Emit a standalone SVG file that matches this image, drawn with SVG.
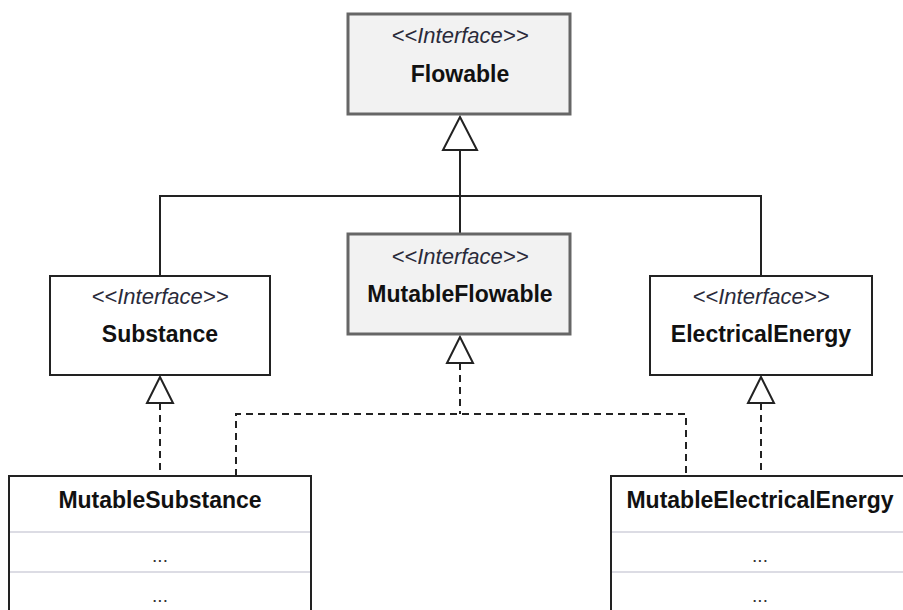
<svg xmlns="http://www.w3.org/2000/svg" width="903" height="610" viewBox="0 0 903 610">
<defs>
<style>
.iface{fill:#f2f2f2;stroke:#666;stroke-width:3}
.plain{fill:#fff;stroke:#222;stroke-width:2}
.sep{stroke:#dcdce4;stroke-width:2}
.st{font-family:"Liberation Sans",Arial,sans-serif;font-style:italic;font-size:22px;fill:#2a2a3a;text-anchor:middle}
.nm{font-family:"Liberation Sans",Arial,sans-serif;font-weight:bold;font-size:23px;fill:#111;text-anchor:middle}
.dots{font-family:"Liberation Sans",Arial,sans-serif;font-size:19px;fill:#333;text-anchor:middle}
.solid{fill:none;stroke:#222;stroke-width:2}
.dash{fill:none;stroke:#222;stroke-width:2;stroke-dasharray:7,5}
.tri{fill:#fff;stroke:#222;stroke-width:2;stroke-linejoin:miter}
</style>
</defs>
<rect width="903" height="610" fill="#fff"/>
<g id="connectors">
<path class="solid" d="M460,150 V196 M160,276 V196 H761 V276 M460,196 V234"/>
<polygon class="tri" points="460,117 443,150 477,150"/>
<path class="dash" d="M460,363 V414 M236,476 V414 H686 V476"/>
<polygon class="tri" points="460,337 447,363 473,363"/>
<path class="dash" d="M160,403 V476"/>
<polygon class="tri" points="160,377 147,403 173,403"/>
<path class="dash" d="M761,403 V476"/>
<polygon class="tri" points="761,377 748,403 774,403"/>
</g>
<g id="Flowable">
<rect class="iface" x="348" y="14" width="222" height="100"/>
<text class="st" x="460" y="43">&lt;&lt;Interface&gt;&gt;</text>
<text class="nm" x="460" y="82">Flowable</text>
</g>
<g id="Substance">
<rect class="plain" x="50" y="276" width="220" height="99"/>
<text class="st" x="160" y="304">&lt;&lt;Interface&gt;&gt;</text>
<text class="nm" x="160" y="342">Substance</text>
</g>
<g id="MutableFlowable">
<rect class="iface" x="348" y="234" width="222" height="100"/>
<text class="st" x="460" y="264">&lt;&lt;Interface&gt;&gt;</text>
<text class="nm" x="460" y="302">MutableFlowable</text>
</g>
<g id="ElectricalEnergy">
<rect class="plain" x="650" y="276" width="222" height="99"/>
<text class="st" x="761" y="304">&lt;&lt;Interface&gt;&gt;</text>
<text class="nm" x="761" y="342">ElectricalEnergy</text>
</g>
<g id="MutableSubstance">
<rect class="plain" x="9" y="476" width="302" height="200"/>
<line class="sep" x1="10" y1="532" x2="310" y2="532"/>
<line class="sep" x1="10" y1="572" x2="310" y2="572"/>
<text class="nm" x="160" y="508">MutableSubstance</text>
<text class="dots" x="160" y="562">...</text>
<text class="dots" x="160" y="602">...</text>
</g>
<g id="MutableElectricalEnergy">
<rect class="plain" x="611" y="476" width="298" height="200"/>
<line class="sep" x1="612" y1="532" x2="903" y2="532"/>
<line class="sep" x1="612" y1="572" x2="903" y2="572"/>
<text class="nm" x="760" y="508">MutableElectricalEnergy</text>
<text class="dots" x="760" y="562">...</text>
<text class="dots" x="760" y="602">...</text>
</g>
</svg>
